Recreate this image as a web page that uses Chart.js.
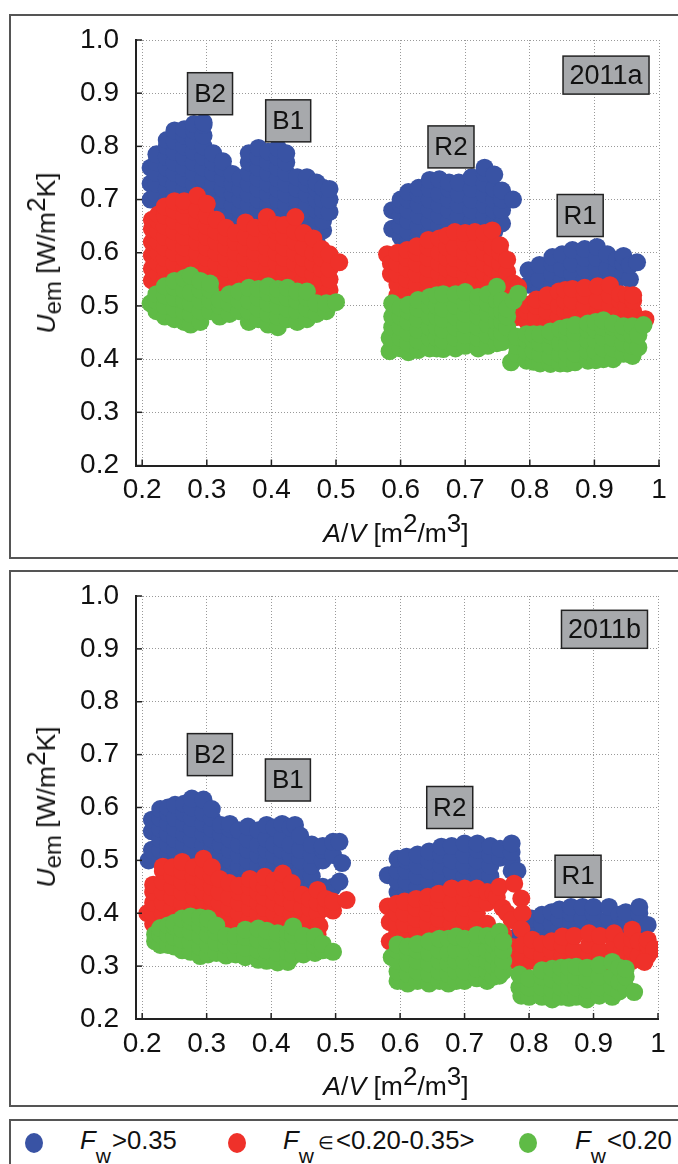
<!DOCTYPE html>
<html>
<head>
<meta charset="utf-8">
<title>Uem vs A/V</title>
<script src="https://cdn.jsdelivr.net/npm/chart.js@4"></script>
<style>
html, body { margin: 0; padding: 0; background: #fff; overflow: hidden; }
body { position: relative; width: 678px; height: 1164px; font-family: "Liberation Sans", Arial, sans-serif; color: #111; }
.panel { position: absolute; left: 9px; width: 680px; border: 2px solid #555; box-sizing: border-box; }
canvas { position: absolute; left: 0; }
.xtitle, .ytitle { position: absolute; font-size: 26.5px; white-space: nowrap; line-height: 30px; }
.xtitle { transform: translateX(-50%); }
.ytitle { transform: translate(-50%, -50%) rotate(-90deg); }
sup, sub { line-height: 0; font-size: 26px; }
sub { font-size: 24px; }
.dot { position: absolute; width: 18px; height: 20px; border-radius: 50%; top: 1133px; }
.leg { position: absolute; top: 1126px; font-size: 25.7px; white-space: nowrap; line-height: 28px; }
.leg sub { position: relative; top: 8px; font-size: 21px; margin-right: 1px; }
.leg span { font-size: 18px; margin: 0 2px 0 3px; }
</style>
</head>
<body>
<div class="panel" style="top:14px;height:545px"></div>
<div class="panel" style="top:570px;height:537px"></div>
<div class="panel" style="top:1119px;height:60px"></div>
<canvas id="chart2011a" style="top:15px"></canvas>
<canvas id="chart2011b" style="top:570px"></canvas>
<div class="xtitle" style="left:396px;top:518px"><i>A</i>/<i>V</i> [m<sup>2</sup>/m<sup>3</sup>]</div>
<div class="xtitle" style="left:396px;top:1071px"><i>A</i>/<i>V</i> [m<sup>2</sup>/m<sup>3</sup>]</div>
<div class="ytitle" style="left:46px;top:253px"><i>U</i><sub>em</sub> [W/m<sup>2</sup>K]</div>
<div class="ytitle" style="left:46px;top:807px"><i>U</i><sub>em</sub> [W/m<sup>2</sup>K]</div>
<div class="dot" style="left:25px;background:#3953a4"></div>
<div class="leg" style="left:80px"><i>F</i><sub>w</sub>&gt;0.35</div>
<div class="dot" style="left:228px;background:#ef312a"></div>
<div class="leg" style="left:283px"><i>F</i><sub>w</sub><span>∈</span>&lt;0.20-0.35&gt;</div>
<div class="dot" style="left:519px;background:#5fbb46"></div>
<div class="leg" style="left:575px"><i>F</i><sub>w</sub>&lt;0.20</div>
<script>
var xTicks = [.2,.3,.4,.5,.6,.7,.8,.9,1];
var xTickLabels = ["0.2","0.3","0.4","0.5","0.6","0.7","0.8","0.9","1"];
var yTicks = [.2,.3,.4,.5,.6,.7,.8,.9,1];
var yTickLabels = ["0.2","0.3","0.4","0.5","0.6","0.7","0.8","0.9","1.0"];

// every row is one A/V value followed by the Uem values read at it
var blue2011a = [
	[.213,.70,.73,.76],[.222,.71,.73,.75,.77,.785],[.238,.70,.72,.74,.76,.78,.80,.812],
	[.25,.71,.73,.75,.77,.79,.81,.83],[.265,.70,.72,.74,.76,.78,.80,.82,.832],
	[.28,.71,.73,.75,.77,.79,.81,.83,.842],[.295,.70,.72,.74,.76,.78,.80,.82,.84,.845],
	[.31,.69,.71,.73,.75,.77,.787],[.325,.66,.68,.70,.72,.74,.76,.772],[.34,.65,.67,.69,.71,.73,.748],
	[.352,.64,.66,.68,.70,.72,.74],[.365,.65,.67,.69,.71,.73,.75,.77,.787],
	[.38,.64,.66,.68,.70,.72,.74,.76,.78,.797],[.395,.65,.67,.69,.71,.73,.75,.77,.79],
	[.41,.64,.66,.68,.70,.72,.74,.76,.78,.797],[.423,.65,.67,.69,.71,.73,.75,.77,.787],
	[.44,.66,.68,.70,.72,.742],[.455,.63,.65,.67,.69,.71,.73,.742],[.47,.62,.64,.66,.68,.70,.72,.732],
	[.48,.642,.66,.68,.70,.722],[.49,.677,.70,.72],
	[.587,.645,.68],[.60,.63,.65,.67,.69,.70],[.612,.62,.64,.66,.68,.70,.714],[.628,.63,.65,.67,.69,.71,.722],
	[.645,.62,.64,.66,.68,.70,.72,.737],[.66,.63,.65,.67,.69,.71,.738],[.675,.64,.66,.68,.70,.72,.732],
	[.69,.65,.67,.69,.71,.732],[.71,.64,.66,.68,.70,.72,.742],[.73,.65,.67,.69,.71,.73,.75,.76],
	[.745,.64,.66,.68,.70,.72,.747],[.757,.655,.68,.70,.717],[.774,.70],
	[.798,.54,.567],[.815,.53,.55,.577],[.835,.54,.56,.58,.592],[.85,.53,.55,.57,.597],[.866,.54,.56,.58,.605],
	[.885,.55,.57,.59,.607],[.904,.55,.57,.59,.611],[.92,.55,.57,.597],[.935,.55,.57,.587],[.945,.56,.58,.594],
	[.955,.55,.577],[.966,.582]
];
var red2011a = [
	[.215,.548,.57,.595,.62,.645,.662],[.225,.54,.56,.58,.60,.62,.64,.66,.672],
	[.235,.53,.55,.57,.59,.61,.63,.65,.67,.687],[.25,.54,.56,.58,.60,.62,.64,.66,.68,.697],
	[.265,.53,.55,.57,.59,.61,.63,.65,.67,.69,.697],[.285,.54,.56,.58,.60,.62,.64,.66,.68,.707],
	[.30,.53,.55,.57,.59,.61,.63,.65,.67,.692],[.315,.52,.54,.56,.58,.60,.62,.64,.662],
	[.33,.51,.53,.55,.57,.59,.61,.63,.647],[.345,.52,.54,.56,.58,.60,.62,.637],
	[.36,.51,.53,.55,.57,.59,.61,.63,.657],[.375,.52,.54,.56,.58,.60,.62,.647],
	[.393,.51,.53,.55,.57,.59,.61,.63,.65,.667],[.408,.52,.54,.56,.58,.60,.62,.64,.652],
	[.42,.51,.53,.55,.57,.59,.61,.63,.652],[.437,.52,.54,.56,.58,.60,.62,.64,.667],
	[.45,.51,.53,.55,.57,.59,.61,.637],[.465,.50,.52,.54,.56,.58,.60,.627],
	[.478,.51,.53,.55,.57,.59,.607],[.49,.53,.55,.57,.597],[.505,.582],
	[.579,.597],[.585,.56,.58],[.595,.52,.54,.56,.58,.60],[.61,.51,.53,.55,.57,.59,.605],
	[.625,.50,.52,.54,.56,.58,.60,.612],[.643,.51,.53,.55,.57,.59,.61,.624],[.66,.50,.52,.54,.56,.58,.60,.627],
	[.672,.51,.53,.55,.57,.59,.61,.632],[.684,.51,.53,.55,.57,.59,.61,.639],[.70,.50,.52,.54,.56,.58,.60,.62,.637],
	[.715,.51,.53,.55,.57,.59,.61,.639],[.73,.50,.52,.54,.56,.58,.60,.62,.637],[.742,.51,.53,.55,.57,.59,.61,.642],
	[.754,.50,.52,.54,.56,.58,.60,.614],[.765,.50,.52,.54,.564,.587],[.775,.49,.52,.542],[.782,.50,.536],
	[.78,.479],[.796,.47,.49,.502],[.81,.46,.48,.50,.512],[.827,.45,.47,.49,.51,.52],[.845,.46,.48,.50,.527],
	[.855,.45,.47,.49,.51,.53],[.866,.45,.47,.49,.51,.532],[.885,.46,.48,.50,.52,.534],[.905,.47,.49,.51,.537],
	[.924,.46,.48,.50,.52,.539],[.94,.47,.49,.51,.522],[.95,.46,.48,.50,.52],[.96,.46,.49,.51,.52],[.979,.475]
];
var green2011a = [
	[.213,.505],[.222,.49,.51,.522],[.235,.48,.50,.52,.537],[.25,.475,.495,.515,.535,.547],
	[.265,.47,.49,.51,.53,.552],[.275,.465,.485,.505,.525,.557],[.29,.47,.49,.51,.53,.547],
	[.305,.49,.51,.53,.542],[.32,.48,.50,.511],[.335,.485,.505,.522],[.35,.49,.51,.527],
	[.365,.47,.49,.51,.534],[.38,.475,.495,.515,.532],[.395,.465,.485,.505,.525,.537],
	[.41,.46,.48,.50,.52,.532],[.425,.475,.495,.515,.534],[.44,.47,.49,.51,.527],[.455,.475,.495,.515,.527],
	[.47,.485,.505],[.485,.49,.505],[.50,.507],
	[.583,.415,.44],[.587,.46,.48,.505],[.60,.42,.44,.46,.48,.497],[.612,.413,.43,.45,.47,.49,.502],
	[.627,.417,.435,.455,.475,.495,.511],[.645,.42,.44,.46,.48,.50,.517],[.656,.42,.44,.46,.48,.50,.52],
	[.666,.419,.435,.455,.475,.495,.522],[.685,.42,.44,.46,.48,.50,.522],[.70,.425,.445,.465,.485,.505,.526],
	[.72,.42,.44,.46,.48,.50,.517],[.735,.425,.445,.465,.485,.505,.522],[.749,.43,.45,.47,.49,.51,.536],
	[.757,.432,.45,.47,.49,.51],[.765,.46,.48,.495],[.775,.51],[.782,.523],
	[.771,.394],[.78,.41,.425,.442],[.795,.397,.415,.435,.447],[.806,.395,.415,.435,.447],[.816,.392,.41,.43,.447],
	[.832,.391,.405,.425,.445,.452],[.847,.392,.41,.43,.457],[.858,.392,.41,.43,.45,.46],[.87,.394,.41,.43,.45,.464],
	[.89,.397,.415,.435,.455,.467],[.902,.398,.415,.435,.455,.47],[.914,.40,.42,.44,.46,.473],
	[.929,.40,.42,.44,.46,.467],[.945,.41,.43,.45,.462],[.959,.406,.425,.445,.462],[.968,.422,.445],[.976,.464]
];

var blue2011b = [
	[.21,.50],[.215,.52,.555,.577],[.228,.50,.52,.54,.56,.58,.597],[.24,.51,.53,.55,.57,.59,.60],
	[.251,.50,.52,.54,.56,.58,.605],[.265,.51,.53,.55,.57,.59,.607],[.277,.50,.52,.54,.56,.58,.60,.617],
	[.295,.51,.53,.55,.57,.59,.615],[.308,.48,.50,.52,.54,.56,.58,.597],[.322,.47,.49,.51,.53,.55,.567],
	[.336,.46,.48,.50,.52,.54,.56,.569],[.35,.47,.49,.51,.53,.557],[.364,.46,.48,.50,.52,.54,.564],
	[.38,.47,.49,.51,.53,.557],[.393,.46,.48,.50,.52,.54,.567],[.405,.47,.49,.51,.53,.562],
	[.417,.46,.48,.50,.52,.54,.569],[.43,.45,.47,.49,.51,.53,.562],[.437,.567],[.445,.44,.46,.48,.50,.52,.547],
	[.463,.45,.47,.49,.51,.53],[.48,.45,.50,.52,.527],[.496,.45,.51,.535],[.506,.46,.535],[.51,.495],
	[.581,.472],[.596,.44,.46,.48,.503],[.61,.44,.46,.48,.50,.507],[.627,.45,.47,.49,.511],[.645,.44,.46,.48,.50,.517],
	[.664,.45,.47,.49,.51,.526],[.68,.46,.48,.50,.527],[.70,.45,.47,.49,.51,.532],[.72,.46,.48,.50,.52,.532],
	[.74,.45,.47,.49,.51,.527],[.755,.505,.522],[.773,.48,.50,.516,.532],[.782,.48],
	[.78,.355],[.795,.36,.378],[.804,.36,.39],[.82,.36,.38,.397],[.835,.36,.38,.402],[.847,.37,.39,.407],
	[.865,.36,.38,.40,.412],[.883,.37,.39,.412],[.90,.36,.38,.40,.412],[.924,.37,.39,.412],[.94,.36,.38,.397],
	[.95,.37,.39,.402],[.971,.36,.38,.40,.412],[.984,.378]
];
var red2011b = [
	[.208,.40],[.217,.38,.40,.42,.44,.454],[.232,.36,.38,.40,.42,.44,.46,.48,.488],[.247,.37,.39,.41,.43,.45,.47,.487],
	[.262,.38,.40,.42,.44,.46,.48,.497],[.28,.37,.39,.41,.43,.45,.47,.487],[.295,.38,.40,.42,.44,.46,.48,.503],
	[.308,.37,.39,.41,.43,.45,.47,.487],[.32,.36,.38,.40,.42,.44,.465],[.335,.35,.37,.39,.41,.43,.457],
	[.35,.36,.38,.40,.42,.44,.452],[.367,.35,.37,.39,.41,.43,.45,.465],[.38,.36,.38,.40,.42,.44,.457],
	[.39,.35,.37,.39,.41,.43,.45,.469],[.405,.36,.38,.40,.42,.44,.462],[.418,.35,.37,.39,.41,.43,.45,.475],
	[.432,.36,.38,.40,.42,.44,.457],[.448,.35,.37,.39,.41,.435],[.46,.35,.37,.39,.41,.427],[.472,.36,.38,.40,.42,.444],
	[.475,.376],[.485,.41,.427],[.496,.405,.422],[.517,.425],
	[.581,.413],[.584,.347,.383],[.595,.34,.36,.38,.40,.418],[.607,.36,.38,.40,.422],[.625,.35,.37,.39,.41,.427],
	[.643,.36,.38,.40,.42,.431],[.66,.35,.37,.39,.41,.425,.437],[.68,.36,.38,.40,.42,.447],[.70,.35,.37,.39,.41,.43,.447],
	[.719,.36,.38,.40,.42,.447],[.735,.36,.38,.42,.44],[.745,.437],[.75,.43],[.754,.45],[.759,.41],[.766,.40],[.773,.387],
	[.777,.456],[.788,.428],[.79,.40],[.788,.37],[.76,.36],
	[.774,.336],[.777,.31],[.79,.30,.32,.34],[.805,.31,.33,.35],[.82,.30,.32,.342],[.835,.31,.33,.347],
	[.852,.30,.32,.34,.356],[.87,.31,.33,.357],[.893,.30,.32,.34,.362],[.91,.31,.33,.357],[.932,.30,.32,.34,.362],
	[.945,.31,.33,.347],[.96,.31,.33,.35,.369],[.97,.32,.347],[.984,.32,.34,.35],[.994,.332],[.979,.308]
];
var green2011b = [
	[.22,.347,.36],[.228,.34,.36,.372],[.24,.34,.36,.377],[.25,.337,.355,.375,.382],[.262,.33,.35,.37,.39],
	[.275,.327,.345,.365,.385,.394],[.29,.319,.337,.357,.377,.392],[.302,.322,.34,.36,.38,.39],[.315,.325,.345,.365,.377],
	[.33,.32,.34,.357],[.345,.322,.34,.357],[.36,.317,.335,.355,.369],[.38,.312,.33,.35,.371],[.393,.31,.33,.35,.367],
	[.41,.307,.325,.345,.362],[.426,.308,.326,.346,.362],[.434,.32,.34,.36,.375],[.45,.322,.34,.357],
	[.468,.325,.34,.356],[.48,.33,.342],[.496,.327],
	[.587,.317],[.596,.272,.29,.31,.33,.341],[.612,.267,.285,.305,.325,.337],[.627,.272,.29,.31,.33,.342],
	[.645,.267,.285,.305,.325,.347],[.661,.272,.29,.31,.33,.352],[.675,.267,.285,.305,.325,.352],[.687,.272,.29,.31,.33,.356],
	[.70,.272,.29,.31,.33,.352],[.719,.277,.295,.315,.335,.359],[.735,.272,.29,.31,.33,.357],[.745,.28,.30,.32,.34,.352],
	[.754,.282,.30,.32,.34,.365],[.76,.29,.31,.33,.347],
	[.785,.26,.284],[.788,.244],[.80,.242,.26,.277],[.82,.242,.26,.28,.292],[.836,.237,.255,.275,.295],
	[.85,.242,.26,.28,.297],[.862,.24,.26,.28,.298],[.873,.242,.26,.28,.299],[.89,.237,.255,.275,.297],[.909,.244,.26,.28,.302],
	[.929,.242,.26,.28,.308],[.94,.252,.27,.297],[.95,.26,.28,.295],[.963,.251]
];

var labels2011a = [
	{text:"B2",x:.305,y:.899},{text:"B1",x:.426,y:.848},{text:"R2",x:.678,y:.799},{text:"R1",x:.878,y:.67},{text:"2011a",x:.918,y:.934}
];
var labels2011b = [
	{text:"B2",x:.305,y:.70},{text:"B1",x:.426,y:.652},{text:"R2",x:.677,y:.60},{text:"R1",x:.876,y:.47},{text:"2011b",x:.917,y:.937}
];

function toPoints(rows) {
	var pts = [];
	for (var i in rows) {
		for (var j = 1; j < rows[i].length; j++) {
			pts.push({x: rows[i][0], y: rows[i][j]});
		}
	}
	return pts;
}

var inwardTicks = {
	id: "inwardTicks",
	afterDatasetsDraw: function(chart) {
		var c = chart.ctx, a = chart.chartArea;
		c.save();
		c.strokeStyle = "#222";
		c.lineWidth = 1.5;
		chart.scales.x.ticks.forEach(function(t) {
			var p = chart.scales.x.getPixelForValue(t.value);
			c.beginPath(); c.moveTo(p, a.bottom); c.lineTo(p, a.bottom - 6); c.stroke();
		});
		chart.scales.y.ticks.forEach(function(t) {
			var p = chart.scales.y.getPixelForValue(t.value);
			c.beginPath(); c.moveTo(a.left, p); c.lineTo(a.left + 6, p); c.stroke();
		});
		c.restore();
	}
};

var boxLabels = {
	id: "boxLabels",
	afterDatasetsDraw: function(chart, args, opts) {
		var c = chart.ctx;
		c.save();
		c.textAlign = "center";
		c.textBaseline = "middle";
		opts.items.forEach(function(l) {
			var px = chart.scales.x.getPixelForValue(l.x);
			var py = chart.scales.y.getPixelForValue(l.y);
			var year = l.text.length > 2;
			c.font = (year ? 27 : 26) + "px 'Liberation Sans'";
			var w = Math.round(c.measureText(l.text).width) + 13;
			var h = year ? 38 : 42;
			c.fillStyle = "#a7a9ac";
			c.strokeStyle = "#222";
			c.lineWidth = 1.5;
			c.fillRect(px - w / 2, py - h / 2, w, h);
			c.strokeRect(px - w / 2, py - h / 2, w, h);
			c.fillStyle = "#111";
			c.fillText(l.text, px, py + 1);
		});
		c.restore();
	}
};

function makeChart(id, height, plotTop, xHeight, right, blue, red, green, labels) {
	var canvas = document.getElementById(id);
	canvas.width = 678;
	canvas.height = height;
	var tickFont = {family: "'Liberation Sans'", size: 28};
	new Chart(canvas, {
		type: "scatter",
		data: {
			datasets: [
				{label: "Fw>0.35", data: toPoints(blue), backgroundColor: "#3953a4", order: 3},
				{label: "Fw 0.20-0.35", data: toPoints(red), backgroundColor: "#ef312a", order: 2},
				{label: "Fw<0.20", data: toPoints(green), backgroundColor: "#5fbb46", order: 1}
			]
		},
		options: {
			responsive: false,
			animation: false,
			elements: {point: {radius: 9, borderWidth: 0, hoverRadius: 9}},
			layout: {padding: {top: plotTop, right: right, left: 0, bottom: 0}},
			plugins: {legend: {display: false}, tooltip: {enabled: false}, boxLabels: {items: labels}},
			scales: {
				x: {
					type: "linear", min: .1904, max: 1,
					afterBuildTicks: function(s) { s.ticks = xTicks.map(function(v) { return {value: v}; }); },
					afterFit: function(s) { s.height = xHeight; s.paddingLeft = 0; s.paddingRight = 0; },
					grid: {color: "#999", lineWidth: 1, drawTicks: false},
					border: {color: "#222", width: 2, dash: [1, 2]},
					ticks: {
						color: "#111", font: tickFont, padding: 8, maxRotation: 0, autoSkip: false,
						callback: function(v, i) { return xTickLabels[i]; }
					}
				},
				y: {
					type: "linear", min: .2, max: 1,
					afterBuildTicks: function(s) { s.ticks = yTicks.map(function(v) { return {value: v}; }); },
					afterFit: function(s) { s.width = 136; s.paddingTop = 0; s.paddingBottom = 0; },
					grid: {color: "#999", lineWidth: 1, drawTicks: false},
					border: {color: "#222", width: 2, dash: [1, 2]},
					ticks: {
						color: "#111", font: tickFont, padding: 17, autoSkip: false,
						callback: function(v, i) { return yTickLabels[i]; }
					}
				}
			}
		},
		plugins: [inwardTicks, boxLabels]
	});
}

makeChart("chart2011a", 543, 25, 92.5, 19, blue2011a, red2011a, green2011a, labels2011a);
makeChart("chart2011b", 536, 26, 87, 20, blue2011b, red2011b, green2011b, labels2011b);
</script>
</body>
</html>
